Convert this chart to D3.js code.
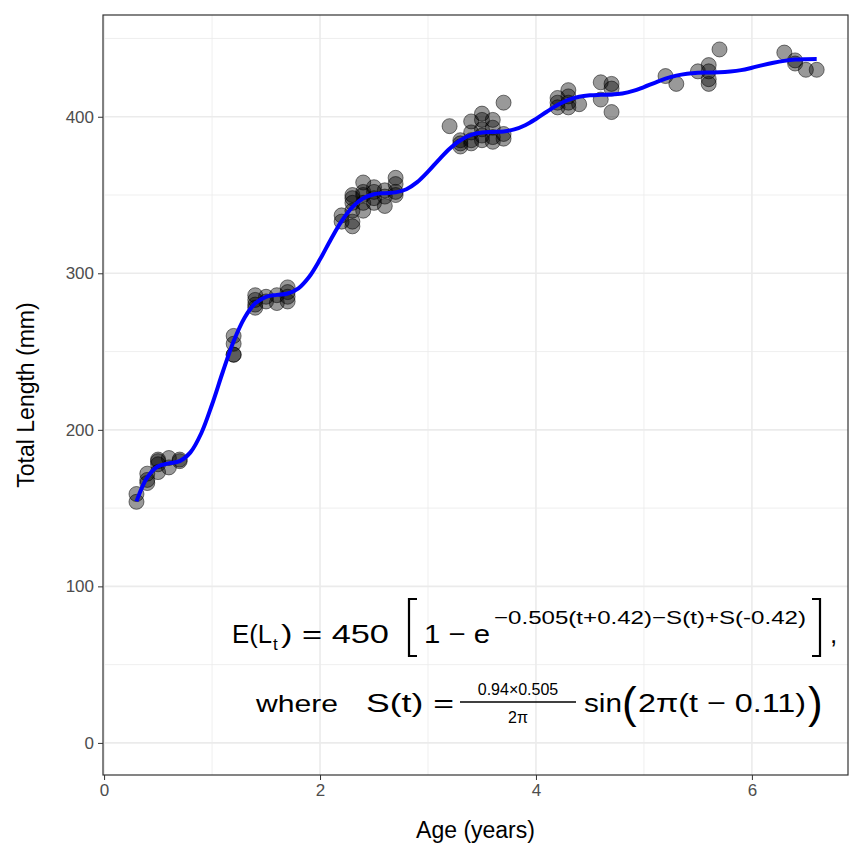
<!DOCTYPE html><html><head><meta charset="utf-8">
<script src="https://cdn.jsdelivr.net/npm/d3@7"></script>
<style>body{margin:0;background:#fff}</style></head><body><svg id="c" width="864" height="864"></svg>
<script>
const ptAge=[0.3,0.3,0.4,0.4,0.4,0.5,0.5,0.5,0.5,0.6,0.6,0.7,0.7,
1.2,1.2,1.2,1.2,1.4,1.4,1.4,1.4,1.5,1.5,1.6,1.6,1.7,1.7,1.7,1.7,
2.2,2.2,2.3,2.3,2.3,2.3,2.3,2.3,2.4,2.4,2.4,2.4,2.4,2.5,2.5,2.5,2.5,2.6,2.6,2.6,2.7,2.7,2.7,2.7,
3.2,3.3,3.3,3.3,3.4,3.4,3.4,3.4,3.5,3.5,3.5,3.5,3.5,3.6,3.6,3.6,3.6,3.7,3.7,3.7,
4.2,4.2,4.2,4.3,4.3,4.3,4.3,4.4,4.6,4.6,4.7,4.7,4.7,
5.2,5.3,5.5,5.6,5.6,5.6,5.6,5.7,6.3,6.4,6.4,6.5,6.6];
const ptLen=[159,154,172,168,166,180,178,173,181,182,176,181,180,
260,255,248,248,286,283,280,278,285,282,286,281,291,288,285,282,
337,333,350,348,345,340,333,330,352,350,345,340,358,355,352,348,345,353,349,343,361,357,352,350,
394,385,381,383,397,390,385,383,402,398,392,388,385,398,393,387,384,409,389,386,
412,409,406,417,413,409,406,408,422,411,421,418,403,
426,421,429,433,429,424,421,443,441,436,434,430,430];
const curveAge=[0.3,0.4,0.5,0.6,0.7,0.8,0.9,1.0,1.1,1.2,1.3,1.4,1.5,1.6,1.7,1.8,1.9,2.0,2.1,2.2,2.3,2.4,2.5,2.6,2.7,2.8,2.9,3.0,3.1,3.2,3.3,3.4,3.5,3.6,3.7,3.8,3.9,4.0,4.1,4.2,4.3,4.4,4.5,4.6,4.7,4.8,4.9,5.0,5.1,5.2,5.3,5.4,5.5,5.6,5.7,5.8,5.9,6.0,6.1,6.2,6.3,6.4,6.5,6.6];
const curveLen=[154.3,169.6,176.7,178.6,180,185.6,197.8,216.2,237.1,256.6,271.5,280.8,285,286.2,287.1,290.4,297.8,308.9,321.6,333.3,342.3,347.9,350.5,351.2,351.7,353.7,358.2,364.9,372.5,379.6,385,388.4,389.9,390.3,390.6,391.9,394.6,398.6,403.2,407.5,410.8,412.8,413.7,414,414.2,414.9,416.5,419,421.7,424.3,426.3,427.5,428.1,428.3,428.4,428.9,429.8,431.3,433,434.5,435.7,436.5,436.8,436.9];
const xTicks=[0,2,4,6], yTicks=[0,100,200,300,400];
const L=103,R=848,T=15,B=775;
const svg=d3.select("#c");
const x=d3.scaleLinear().domain([-0.01,6.89]).range([L,R]);
const y=d3.scaleLinear().domain([-20.5,465]).range([B,T]);
const g=svg.append("g");
[1,3,5].forEach(v=>g.append("line").attr("x1",x(v)).attr("x2",x(v)).attr("y1",T).attr("y2",B).attr("stroke","#ebebeb").attr("stroke-width",0.8));
[50,150,250,350,450].forEach(v=>g.append("line").attr("y1",y(v)).attr("y2",y(v)).attr("x1",L).attr("x2",R).attr("stroke","#ebebeb").attr("stroke-width",0.8));
xTicks.forEach(v=>g.append("line").attr("x1",x(v)).attr("x2",x(v)).attr("y1",T).attr("y2",B).attr("stroke","#ebebeb").attr("stroke-width",1.6));
yTicks.forEach(v=>g.append("line").attr("y1",y(v)).attr("y2",y(v)).attr("x1",L).attr("x2",R).attr("stroke","#ebebeb").attr("stroke-width",1.6));
svg.append("g").selectAll("circle").data(ptAge).join("circle").attr("cx",d=>x(d)).attr("cy",(d,i)=>y(ptLen[i])).attr("r",7.5)
 .attr("fill","rgba(0,0,0,0.4)").attr("stroke","rgba(0,0,0,0.5)").attr("stroke-width",1);
svg.append("path").datum(curveAge).attr("d",d3.line().x(d=>x(d)).y((d,i)=>y(curveLen[i])).curve(d3.curveCatmullRom)).attr("fill","none").attr("stroke","#0000ff").attr("stroke-width",4);
svg.append("rect").attr("x",L).attr("y",T).attr("width",R-L).attr("height",B-T).attr("fill","none").attr("stroke","#333").attr("stroke-width",1.2);
const xa=svg.append("g").attr("transform",`translate(0,${B})`).call(d3.axisBottom(x).tickValues(xTicks).tickFormat(d3.format("d")).tickSize(5).tickPadding(4));
const ya=svg.append("g").attr("transform",`translate(${L},0)`).call(d3.axisLeft(y).tickValues(yTicks).tickFormat(d3.format("d")).tickSize(5).tickPadding(4));
[xa,ya].forEach(a=>{a.select(".domain").remove();a.selectAll("line").attr("stroke","#333");a.selectAll("text").attr("fill","#4d4d4d").style("font-family","Liberation Sans, Arial").style("font-size","17px");});
svg.append("text").attr("x",(L+R)/2).attr("y",838).attr("text-anchor","middle").style("font-family","Liberation Sans, Arial").style("font-size","23px").text("Age (years)");
svg.append("text").attr("transform",`translate(34,${(T+B)/2}) rotate(-90)`).attr("text-anchor","middle").style("font-family","Liberation Sans, Arial").style("font-size","23px").text("Total Length (mm)");
const f="Liberation Sans, Arial";
function tx(xp,yp,s,txt,len,anchor){const t=svg.append("text").attr("x",xp).attr("y",yp).style("font-family",f).style("font-size",s+"px").attr("text-anchor",anchor||"start").text(txt);if(len)t.attr("textLength",len).attr("lengthAdjust","spacingAndGlyphs");return t;}
function br(p){svg.append("path").attr("d",p).attr("fill","none").attr("stroke","#000").attr("stroke-width",2.2);}
// line 1
tx(232,643,26,"E(L",40);tx(273,650,17,"t");tx(281,643,26,") = 450",108);
br("M417,599 L409,599 L409,656 L417,656");
tx(424,643,26,"1 − e",66);
tx(494,624,19,"−0.505(t+0.42)−S(t)+S(-0.42)",312);
br("M812,599 L820,599 L820,656 L812,656");
tx(830,643,26,",");
// line 2
tx(256,712,24,"where",82);tx(366,712,26,"S(t) =",88);
tx(518,695,16,"0.94×0.505",null,"middle");
svg.append("line").attr("x1",460).attr("x2",576).attr("y1",702).attr("y2",702).attr("stroke","#000").attr("stroke-width",1.3);
tx(518,723,16,"2π",null,"middle");
tx(584,712,26,"sin",38);tx(622,718,44,"(");tx(638,712,26,"2π(t − 0.11)",168);tx(808,718,44,")");
</script></body></html>
